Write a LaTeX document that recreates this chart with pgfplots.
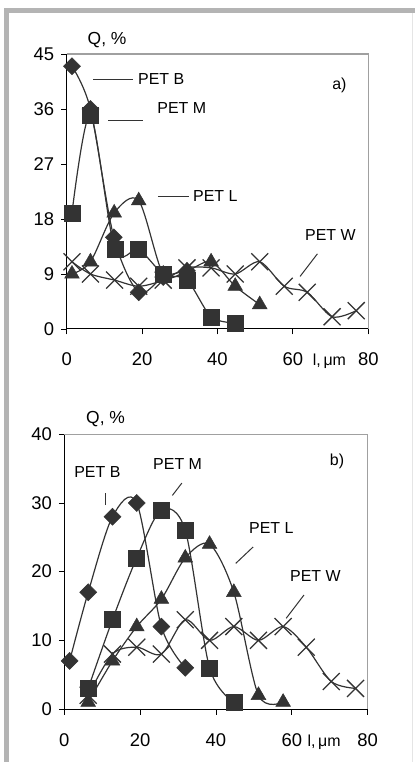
\documentclass[border=0pt]{standalone}
\usepackage{fontspec}
\setmainfont{Liberation Sans}
\usepackage{pgfplots}
\pgfplotsset{compat=1.18}
\definecolor{mk}{HTML}{333333}
\definecolor{framegray}{HTML}{B4B4B4}
\definecolor{boxgray}{HTML}{A0A0A0}
\newcommand{\lum}{\fontsize{16}{19}\selectfont l,\,μm}

\tikzset{note/.style={mk, line width=1bp}}
\pgfplotsset{
  panel/.style={
    scale only axis,
    anchor=south west,
    xmin=0, xmax=80, ymin=0,
    xtick={0,20,40,60,80},
    axis x line*=bottom, axis y line*=left,
    axis line style={-, black, line width=1bp},
    tick align=outside,
    major tick length=5.5bp,
    tick style={black, line width=0.9bp},
    font=\fontsize{16}{19}\selectfont,
    tick label style={font=\fontsize{18.5}{21}\selectfont},
    /pgf/number format/assume math mode=true,
    xticklabel style={anchor=base, yshift=-31.5bp},
    yticklabel style={anchor=east, xshift=-3.5bp},
    extra x tick style={tick style={draw=none}},
    clip=false,
    every axis plot/.append style={color=mk, line width=1.2bp, smooth, tension=0.5},
    after end axis/.code={\draw[boxgray, line width=1.2bp] (rel axis cs:0,1) -- (rel axis cs:1,1) -- (rel axis cs:1,0);},
  },
  petB/.style={mark=square*, mark size=6bp, mark options={rotate=45, solid, fill=mk, line width=0.5bp}},
  petM/.style={mark=square*, mark size=8bp, mark options={solid, fill=mk, line width=0.5bp}},
  petL/.style={mark=triangle*, mark size=8.5bp, mark options={solid, fill=mk, line width=0.5bp}},
  petW/.style={mark=x, mark size=12bp, mark options={solid, line width=1.3bp}},
}

\begin{document}
\begin{tikzpicture}
\useasboundingbox (0bp,0bp) rectangle (415bp,762bp);
% outer frame
\fill[framegray] (4bp,0bp) rectangle (9.3bp,753.7bp);
\fill[framegray] (4bp,748.7bp) rectangle (415bp,753.7bp);
\draw[gray!20, line width=0.8bp] (412bp,0bp) -- (412bp,748.7bp);

% ---- panel a)
\begin{axis}[panel, at={(66.7bp,433bp)}, width=301.6bp, height=275bp,
    ymax=45, ytick={0,9,18,27,36,45},
    extra x ticks={69.7}, extra x tick labels={\lum}]
  \addplot[petB] coordinates {(1.4,43) (6.3,36) (12.5,15) (19.1,6) (25.6,8.5) (31.9,9.5)};
  \addplot[petM] coordinates {(1.4,19) (6.3,35) (12.8,13) (19.1,13) (25.6,9) (31.9,8) (38.3,2) (44.7,1)};
  \addplot[petL] coordinates {(1.4,9) (6.3,11) (12.6,19) (19.1,21) (25.6,9) (31.9,9.5) (38.3,11) (44.7,7) (51.2,4)};
  \addplot[petW] coordinates {(1.4,11) (6.3,9) (12.7,8) (19.1,7) (25.6,8) (31.9,10) (38.3,10) (44.7,9) (51.2,11) (57.7,7) (63.8,6) (70.4,2) (76.8,3)};
  \draw[note] (axis cs:7,40.9) -- (axis cs:17.6,40.9);
  \node[anchor=west, inner sep=0] at (axis cs:18.9,40.9) {PET B};
  \draw[note] (axis cs:11,34.1) -- (axis cs:20.2,34.1);
  \node[anchor=west, inner sep=0] at (axis cs:24,36.2) {PET M};
  \draw[note] (axis cs:24.2,21.7) -- (axis cs:32.4,21.7);
  \node[anchor=west, inner sep=0] at (axis cs:33.5,21.7) {PET L};
  \draw[note] (axis cs:61.9,8.6) -- (axis cs:66.5,12.3);
  \node[anchor=west, inner sep=0] at (axis cs:63.2,15.4) {PET W};
  \node[anchor=west, inner sep=0] at (axis cs:70.4,39.9) {a)};
  \node[anchor=base, font=\fontsize{17.5}{20}\selectfont] at (rel axis cs:0.134,1) [yshift=9.3bp] {Q, \%};
\end{axis}

% ---- panel b)
\begin{axis}[panel, at={(64.3bp,53bp)}, width=303.4bp, height=274.7bp,
    ymax=40, ytick={0,10,20,30,40},
    extra x ticks={68.5}, extra x tick labels={\lum}]
  \addplot[petB] coordinates {(1.4,7) (6.3,17) (12.7,28) (19.1,30) (25.6,12) (31.9,6)};
  \addplot[petM] coordinates {(6.3,3) (12.7,13) (19.1,22) (25.6,29) (31.9,26) (38.3,6) (44.7,1)};
  \addplot[petL] coordinates {(6.3,1) (12.7,7) (19.1,12) (25.6,16) (31.9,22) (38.3,24) (44.7,17) (51.2,2) (57.7,1)};
  \addplot[petW] coordinates {(6.3,2) (12.7,8) (19.1,9) (25.6,8) (31.9,13) (38.3,10) (44.7,12) (51.2,10) (57.7,12) (63.8,9) (70.4,4) (76.8,3)};
  \node[anchor=west, inner sep=0] at (axis cs:2.6,34.5) {PET B};
  \draw[note] (axis cs:10.9,29.7) -- (axis cs:10.9,31.4);
  \node[anchor=west, inner sep=0] at (axis cs:23.4,35.7) {PET M};
  \draw[note] (axis cs:28.5,31.1) -- (axis cs:31.0,32.9);
  \node[anchor=west, inner sep=0] at (axis cs:48.7,26.4) {PET L};
  \draw[note] (axis cs:45.2,21.2) -- (axis cs:49.8,23.6);
  \node[anchor=west, inner sep=0] at (axis cs:59.5,19.4) {PET W};
  \draw[note] (axis cs:58.5,13.2) -- (axis cs:63.2,16.6);
  \node[anchor=west, inner sep=0] at (axis cs:70.0,36.0) {b)};
  \node[anchor=base, font=\fontsize{17.5}{20}\selectfont] at (rel axis cs:0.136,1) [yshift=10.6bp] {Q, \%};
\end{axis}
\end{tikzpicture}
\end{document}
